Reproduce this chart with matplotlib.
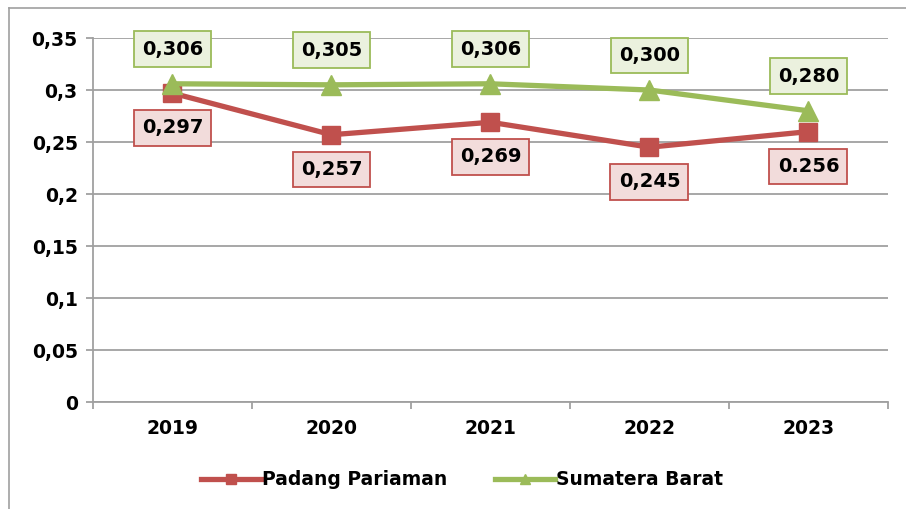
import matplotlib.pyplot as plt
from matplotlib.lines import Line2D

# data
years = ['2019', '2020', '2021', '2022', '2023']
padang = [0.297, 0.257, 0.269, 0.245, 0.260]
padang_labels = ['0,297', '0,257', '0,269', '0,245', '0.256']
sumbar = [0.306, 0.305, 0.306, 0.300, 0.280]
sumbar_labels = ['0,306', '0,305', '0,306', '0,300', '0,280']

red = '#C0504D'
green = '#9BBB59'

plt.rcParams['font.family'] = ['DejaVu Sans']
plt.rcParams['font.weight'] = 'bold'

fig = plt.figure(figsize=(9.06, 5.09), dpi=100)
ax = fig.add_axes([0.1026, 0.2102, 0.8775, 0.7151])

x = list(range(len(years)))
ax.plot(x, padang, color=red, lw=3.8, marker='s', ms=13, label='Padang Pariaman', zorder=3)
ax.plot(x, sumbar, color=green, lw=3.8, marker='^', ms=14, label='Sumatera Barat', zorder=4)

for i in x:
    ax.annotate(padang_labels[i], (i, padang[i]), xytext=(0, -25), textcoords='offset points',
                ha='center', va='center', fontsize=14, fontweight='bold', zorder=5,
                bbox=dict(boxstyle='square,pad=0.42', fc='#F2DCDB', ec=red, lw=1.3))
    ax.annotate(sumbar_labels[i], (i, sumbar[i]), xytext=(0, 25), textcoords='offset points',
                ha='center', va='center', fontsize=14, fontweight='bold', zorder=5,
                bbox=dict(boxstyle='square,pad=0.42', fc='#EBF1DE', ec=green, lw=1.3))

ax.set_xlim(-0.5, 4.5)
ax.set_ylim(0, 0.35)
yt = [0, 0.05, 0.1, 0.15, 0.2, 0.25, 0.3, 0.35]
ax.set_yticks(yt)
ax.set_yticklabels(['0', '0,05', '0,1', '0,15', '0,2', '0,25', '0,3', '0,35'])
ax.set_xticks(x)
ax.set_xticklabels(years)
ax.set_xticks([-0.5, 0.5, 1.5, 2.5, 3.5, 4.5], minor=True)
ax.tick_params(axis='x', which='major', length=0, pad=12, labelsize=13.5)
ax.tick_params(axis='x', which='minor', length=5, color='#A0A0A0', width=1.3)
ax.tick_params(axis='y', length=5, color='#A0A0A0', width=1.3, pad=6, labelsize=13.5)

ax.grid(axis='y', color='#A0A0A0', lw=1.3)
ax.set_axisbelow(True)
for s in ['top', 'right']:
    ax.spines[s].set_visible(False)
for s in ['left', 'bottom']:
    ax.spines[s].set_color('#A0A0A0')
    ax.spines[s].set_linewidth(1.3)

leg = fig.legend(loc='center', bbox_to_anchor=(0.51, 0.057), ncol=2, frameon=False,
                 fontsize=13.5, handlelength=3.2, handletextpad=0.1, columnspacing=2.5,
                 markerscale=0.55)

# outer chart frame
fig.add_artist(Line2D([9 / 906, 9 / 906], [0, 1 - 8 / 509], transform=fig.transFigure, color='#A0A0A0', lw=1.2))
fig.add_artist(Line2D([9 / 906, 1], [1 - 8 / 509, 1 - 8 / 509], transform=fig.transFigure, color='#A0A0A0', lw=1.2))

fig.savefig('out.png', dpi=100)
plt.close(fig)
